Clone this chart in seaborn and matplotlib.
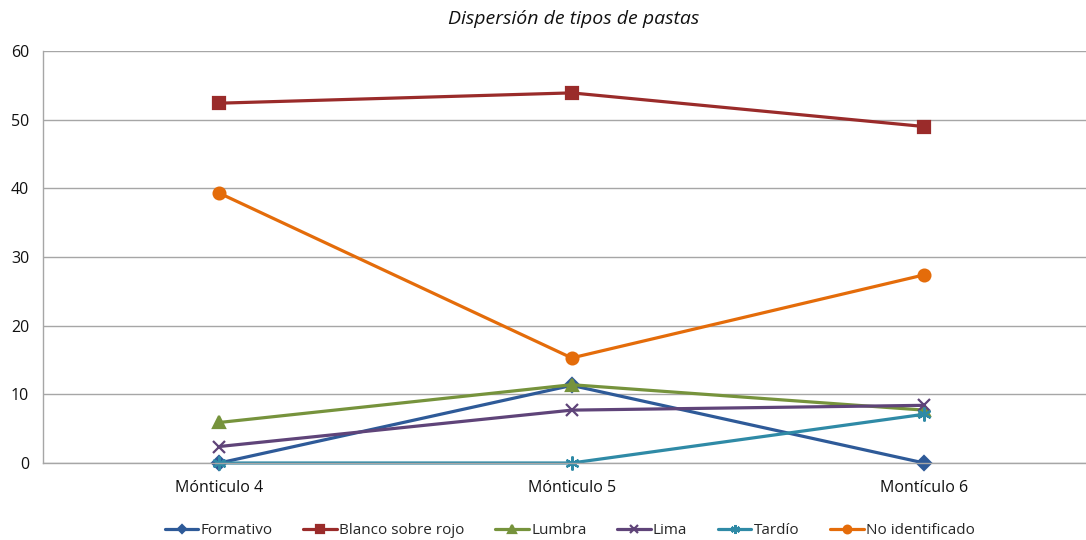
import pandas as pd
import seaborn as sns
import matplotlib.pyplot as plt

# datos
monticulos = ['Mónticulo 4', 'Mónticulo 5', 'Montículo 6']
formativo = [0, 11.3, 0]
blanco_rojo = [52.4, 53.9, 49.0]
lumbra = [5.9, 11.4, 7.7]
lima = [2.4, 7.7, 8.4]
tardio = [0, 0, 7.1]
no_ident = [39.3, 15.3, 27.4]

series = [
    ('Formativo', formativo, '#2E5A98', 'D', 7),
    ('Blanco sobre rojo', blanco_rojo, '#9A2B2A', 's', 8),
    ('Lumbra', lumbra, '#76933C', '^', 8.5),
    ('Lima', lima, '#5F4479', 'x', 9),
    ('Tardío', tardio, '#2F8AA6', (6, 2, 0), 10),
    ('No identificado', no_ident, '#E46C0A', 'o', 8.5),
]

sns.set_style('white')
plt.rcParams['font.family'] = ['Open Sans', 'DejaVu Sans']

fig = plt.figure(figsize=(10.86, 5.4), dpi=100)
ax = fig.add_axes([43 / 1086, 77 / 540, 1043 / 1086, 412 / 540])

for nombre, vals, color, marca, ms in series:
    df = pd.DataFrame({'x': monticulos, 'y': vals})
    sns.lineplot(data=df, x='x', y='y', ax=ax, color=color, marker=marca,
                 markersize=ms, markeredgecolor=color, markeredgewidth=1.6,
                 linewidth=2.3, label=nombre, sort=False, clip_on=False)

ax.set_ylim(0, 60)
ax.set_yticks(range(0, 61, 10))
ax.set_xlim(-0.5, 2.459)
ax.grid(axis='y', color='#A6A6A6', linewidth=1)
ax.set_axisbelow(True)
for s in ['top', 'right']:
    ax.spines[s].set_visible(False)
for s in ['left', 'bottom']:
    ax.spines[s].set_color('#A6A6A6')
    ax.spines[s].set_linewidth(1)
ax.set_xlabel('')
ax.set_ylabel('')
ax.tick_params(axis='both', length=0, labelsize=11.5, colors='#111111')
ax.tick_params(axis='y', pad=10)
ax.tick_params(axis='x', pad=12)

fig.text(0.528, 0.965, 'Dispersión de tipos de pastas', ha='center', va='center',
         fontsize=14, style='italic', color='#111111')

ax.legend(loc='center', bbox_to_anchor=(0.505, -0.165), ncol=6, frameon=False,
          fontsize=11, handlelength=2.2, handletextpad=0.15, columnspacing=2.0,
          markerscale=0.65)

fig.savefig('out.png', dpi=100)
